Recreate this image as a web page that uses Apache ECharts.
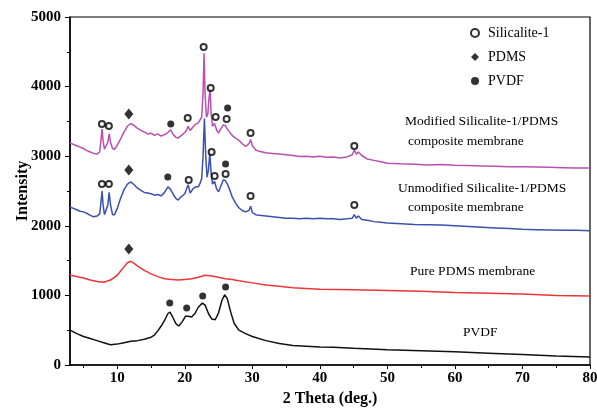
<!DOCTYPE html>
<html>
<head>
<meta charset="utf-8">
<script src="https://cdn.jsdelivr.net/npm/echarts@6/dist/echarts.min.js"></script>
<style>
  html, body { margin: 0; padding: 0; background: #fff; }
  #chart { width: 597px; height: 408px; }
</style>
</head>
<body>
<div id="chart"></div>
<script>
// XRD patterns, [2theta, intensity]
var modified = [
  [3,3190],[3.5,3170],[4,3150],[4.5,3130],[5,3110],[5.5,3080],[6,3060],[6.5,3040],[7,3030],[7.4,3060],
  [7.6,3250],[7.75,3390],[7.9,3220],[8.1,3100],[8.3,3090],[8.6,3200],[8.8,3320],[9.0,3200],[9.3,3110],[9.6,3100],
  [10,3160],[10.5,3250],[11,3350],[11.5,3430],[12,3470],[12.5,3440],[13,3400],[13.5,3370],[14,3350],[14.5,3320],
  [15,3330],[15.5,3300],[16,3320],[16.5,3290],[17,3310],[17.5,3340],[17.9,3380],[18.3,3310],[18.7,3270],[19,3260],
  [19.5,3300],[20,3340],[20.3,3380],[20.5,3430],[20.8,3370],[21.2,3420],[21.6,3460],[22,3480],[22.3,3530],[22.5,3560],
  [22.7,3900],[22.85,4480],[23.0,3900],[23.2,3560],[23.4,3600],[23.6,3850],[23.75,3980],[23.9,3600],[24.1,3430],[24.4,3470],
  [24.7,3380],[25.0,3330],[25.3,3390],[25.7,3450],[26.0,3440],[26.3,3390],[26.6,3350],[27,3300],[27.5,3260],[28,3230],
  [28.5,3180],[29,3140],[29.5,3180],[29.75,3240],[30,3150],[30.5,3090],[31,3070],[32,3050],[33,3040],[34,3030],
  [35,3020],[36,3010],[37,2995],[38,3000],[39,2990],[40,3000],[41,2985],[42,2990],[43,2975],[44,2990],
  [44.8,3020],[45.1,3090],[45.4,3030],[45.7,3060],[46.2,3010],[47,2960],[48,2940],[49,2920],[50,2900],[52,2890],
  [54,2885],[56,2875],[58,2880],[60,2870],[62,2865],[64,2860],[66,2855],[68,2850],[70,2850],[72,2845],
  [74,2840],[76,2835],[78,2830],[80,2830]
];
var unmodified = [
  [3,2270],[3.5,2250],[4,2230],[4.5,2210],[5,2200],[5.5,2180],[6,2150],[6.5,2130],[7,2140],[7.4,2170],
  [7.6,2350],[7.75,2500],[7.9,2300],[8.1,2160],[8.3,2150],[8.6,2300],[8.8,2480],[9.0,2300],[9.3,2160],[9.6,2160],
  [10,2250],[10.5,2400],[11,2520],[11.5,2600],[12,2630],[12.5,2590],[13,2540],[13.5,2510],[14,2480],[14.5,2470],
  [15,2460],[15.5,2440],[16,2450],[16.5,2430],[17,2480],[17.5,2560],[17.9,2520],[18.3,2450],[18.7,2390],[19,2370],
  [19.5,2420],[20,2460],[20.3,2540],[20.5,2590],[20.8,2470],[21.2,2530],[21.6,2560],[22,2560],[22.3,2620],[22.5,2680],
  [22.7,3000],[22.9,3540],[23.1,3000],[23.3,2700],[23.5,2800],[23.7,3050],[23.9,2750],[24.1,2600],[24.4,2640],[24.7,2530],
  [25.0,2490],[25.3,2560],[25.7,2660],[26.0,2650],[26.3,2600],[26.6,2530],[27,2420],[27.5,2330],[28,2260],[28.5,2220],
  [29,2200],[29.5,2220],[29.75,2280],[30,2190],[30.5,2160],[31,2150],[32,2140],[33,2130],[34,2120],[35,2110],
  [36,2110],[37,2100],[38,2110],[39,2100],[40,2110],[41,2100],[42,2100],[43,2090],[44,2100],[44.8,2110],
  [45.1,2160],[45.4,2110],[45.7,2140],[46.2,2090],[47,2080],[48,2060],[49,2050],[50,2040],[52,2030],[54,2020],
  [56,2015],[58,2010],[60,2000],[62,1990],[64,1980],[66,1970],[68,1960],[70,1950],[72,1945],[74,1940],
  [76,1935],[78,1935],[80,1930]
];
var purePdms = [
  [3,1290],[4,1270],[5,1250],[6,1220],[7,1200],[8,1190],[9,1220],[10,1290],[10.5,1350],[11,1410],
  [11.5,1470],[12,1490],[12.5,1460],[13,1420],[14,1360],[15,1310],[16,1270],[17,1240],[18,1230],[19,1220],
  [20,1230],[21,1240],[22,1260],[23,1290],[24,1280],[25,1260],[26,1240],[27,1230],[28,1210],[30,1180],
  [32,1150],[34,1130],[36,1110],[38,1100],[40,1090],[45,1080],[50,1070],[55,1060],[60,1040],[65,1030],
  [70,1020],[75,1000],[80,990]
];
var pvdf = [
  [3,500],[4,450],[5,410],[6,380],[7,350],[8,320],[9,290],[10,300],[11,320],[12,340],
  [13,350],[14,370],[15,400],[15.5,430],[16,490],[16.5,560],[17,640],[17.5,740],[17.8,760],[18.2,690],
  [18.7,590],[19.1,560],[19.6,620],[20.1,700],[20.5,700],[21,690],[21.5,740],[22,830],[22.6,890],[23,860],
  [23.5,740],[24,660],[24.5,650],[25,750],[25.5,930],[25.9,1010],[26.3,950],[26.8,760],[27.3,600],[28,500],
  [29,450],[30,410],[32,350],[34,310],[36,280],[38,270],[40,260],[42,255],[45,240],[50,220],
  [55,205],[60,190],[65,170],[70,150],[75,130],[80,115]
];

// peak markers
var silicaliteMarks = [
  [7.73,3463],[8.76,3434],[20.43,3549],[22.79,4569],[23.83,3980],[24.57,3563],[26.19,3534],[29.74,3333],[45.1,3147],
  [7.73,2601],[8.76,2601],[20.58,2658],[23.97,3060],[24.42,2716],[26.04,2744],[29.74,2428],[45.1,2299]
];
var pdmsMarks = [[11.71,3606],[11.71,2802],[11.71,1667]];
var pvdfMarks = [
  [17.92,3463],[26.34,3693],[17.48,2701],[26.04,2888],
  [17.77,891],[20.28,819],[22.65,991],[26.04,1121]
];

var xMajor = [10, 20, 30, 40, 50, 60, 70, 80];
var xMinor = [5, 15, 25, 35, 45, 55, 65, 75];

var serif = '"Liberation Serif", "DejaVu Serif", serif';

var chart = echarts.init(document.getElementById('chart'));

function curve(name, data, color) {
  return {
    name: name, type: 'line', data: data, showSymbol: false, symbol: 'none',
    lineStyle: { color: color, width: 1.5 }, silent: true, z: 2
  };
}

function marks(name, data, symbol, size) {
  return {
    name: name, type: 'scatter', data: data, symbol: symbol, symbolSize: size,
    itemStyle: { color: '#000', borderColor: '#000', borderWidth: symbol === 'emptyCircle' ? 1.1 : 0 },
    z: 5
  };
}

var option = {
  backgroundColor: '#fff',
  animation: false,
  grid: {
    left: 70, right: 7, top: 17, bottom: 43, show: true, borderColor: '#000', borderWidth: 1.2,
    outerBoundsMode: 'none', containLabel: false
  },
  legend: {
    orient: 'vertical', left: 465, top: 21, itemGap: 10, itemWidth: 8, itemHeight: 8,
    data: [
      { name: 'Silicalite-1', icon: 'emptyCircle' },
      { name: 'PDMS', icon: 'diamond' },
      { name: 'PVDF', icon: 'circle' }
    ],
    textStyle: { fontFamily: serif, fontSize: 14, color: '#000', padding: [0, 0, 0, 4] }
  },
  xAxis: [{
    type: 'value', min: 3, max: 80,
    name: '2 Theta (deg.)', nameLocation: 'middle', nameGap: 26, nameMoveOverlap: false,
    nameTextStyle: { fontFamily: serif, fontSize: 16, fontWeight: 'bold', color: '#000' },
    axisLine: { lineStyle: { color: '#000', width: 1.5 } },
    axisTick: { show: true, length: 4, customValues: xMajor, lineStyle: { color: '#000' } },
    axisLabel: { customValues: xMajor, fontFamily: serif, fontSize: 15, fontWeight: 'bold', color: '#000', margin: 6 },
    splitLine: { show: false }
  }, {
    type: 'value', min: 3, max: 80, position: 'bottom',
    axisLine: { show: false },
    axisTick: { show: true, length: 3, customValues: xMinor, lineStyle: { color: '#000' } },
    axisLabel: { show: false },
    splitLine: { show: false }
  }],
  yAxis: {
    type: 'value', min: 0, max: 5000, interval: 1000,
    name: 'Intensity', nameLocation: 'middle', nameGap: 39, nameMoveOverlap: false,
    nameTextStyle: { fontFamily: serif, fontSize: 16, fontWeight: 'bold', color: '#000' },
    axisLine: { show: true, lineStyle: { color: '#000', width: 1.5 } },
    axisTick: { show: true, length: 5, lineStyle: { color: '#000' } },
    minorTick: { show: true, splitNumber: 2, length: 3, lineStyle: { color: '#000' } },
    axisLabel: {
      fontFamily: serif, fontSize: 15, fontWeight: 'bold', color: '#000', margin: 9,
      formatter: function (v) { return String(v); }
    },
    splitLine: { show: false }
  },
  graphic: [
    { type: 'text', left: 405, top: 114, style: { text: 'Modified Silicalite-1/PDMS', font: '13.5px ' + serif, fill: '#000' } },
    { type: 'text', left: 408, top: 134, style: { text: 'composite membrane', font: '13.5px ' + serif, fill: '#000' } },
    { type: 'text', left: 398, top: 181, style: { text: 'Unmodified Silicalite-1/PDMS', font: '13.5px ' + serif, fill: '#000' } },
    { type: 'text', left: 408, top: 200, style: { text: 'composite membrane', font: '13.5px ' + serif, fill: '#000' } },
    { type: 'text', left: 410, top: 264, style: { text: 'Pure PDMS membrane', font: '13.5px ' + serif, fill: '#000' } },
    { type: 'text', left: 463, top: 325, style: { text: 'PVDF', font: '13.5px ' + serif, fill: '#000' } }
  ],
  series: [
    curve('Modified', modified, '#b94fb3'),
    curve('Unmodified', unmodified, '#3c50b0'),
    curve('Pure PDMS', purePdms, '#ee3535'),
    curve('PVDF curve', pvdf, '#111'),
    marks('Silicalite-1', silicaliteMarks, 'emptyCircle', 6),
    marks('PDMS', pdmsMarks, 'diamond', [9, 11]),
    marks('PVDF', pvdfMarks, 'circle', 7)
  ]
};

chart.setOption(option);
</script>
</body>
</html>
